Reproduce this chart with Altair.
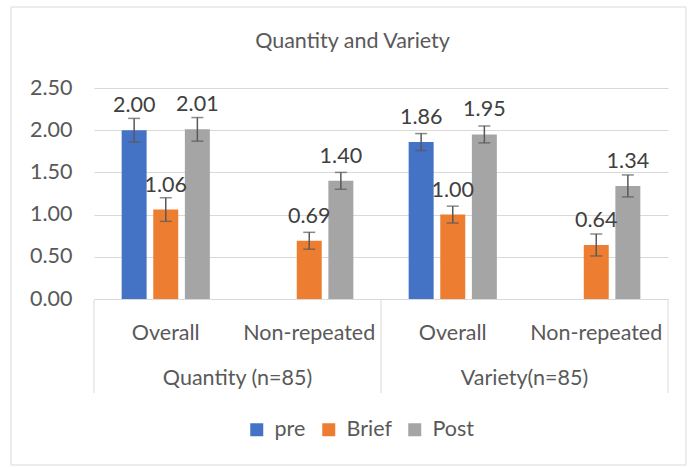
import altair as alt
import pandas as pd

# ---- data ----
groups = ["Quantity (n=85)", "Quantity (n=85)", "Variety(n=85)", "Variety(n=85)"]
categories = ["Overall", "Non-repeated", "Overall", "Non-repeated"]
series_names = ["pre", "Brief", "Post"]
pre_vals = [2.00, None, 1.86, None]
brief_vals = [1.06, 0.69, 1.00, 0.64]
post_vals = [2.01, 1.40, 1.95, 1.34]
pre_err = [0.14, None, 0.10, None]
brief_err = [0.14, 0.10, 0.10, 0.13]
post_err = [0.14, 0.10, 0.10, 0.13]
colors = ["#4472C4", "#ED7D31", "#A5A5A5"]
title_text = "Quantity and Variety"

FONT = "Lato"
FS = 21.5
TXT = "#595959"
GRID = "#d9d9d9"

keys = [f"{g}|{c}" for g, c in zip(groups, categories)]
rows = []
for i in range(len(keys)):
    for s, vals, errs in zip(series_names, [pre_vals, brief_vals, post_vals],
                             [pre_err, brief_err, post_err]):
        if vals[i] is None:
            continue
        rows.append(dict(key=keys[i], series=s, value=vals[i],
                         lo=vals[i] - errs[i], hi=vals[i] + errs[i],
                         label=f"{vals[i]:.2f}"))
df = pd.DataFrame(rows)

group_df = pd.DataFrame({"key": [keys[0], keys[2]], "group": [groups[0], groups[2]]})
sep_start = pd.DataFrame({"key": [keys[0], keys[2]]})
sep_end = pd.DataFrame({"key": [keys[3]]})

xscale = alt.Scale(domain=keys, paddingInner=0, paddingOuter=0)
xoff_scale = alt.Scale(domain=series_names, paddingInner=0.21, paddingOuter=0.875)
yscale = alt.Scale(domain=[0, 2.5], nice=False)

x_enc = alt.X("key:N", scale=xscale, sort=keys, title=None,
              axis=alt.Axis(labelExpr="split(datum.label, '|')[1]", labelAngle=0,
                            ticks=False, tickSize=0, domainColor=GRID, domainWidth=1,
                            labelFont=FONT, labelFontSize=FS, labelColor=TXT,
                            labelBaseline="alphabetic", labelPadding=40, grid=False))
xo = alt.XOffset("series:N", scale=xoff_scale)

base = alt.Chart(df)

bars = base.mark_bar().encode(
    x=x_enc,
    xOffset=xo,
    y=alt.Y("value:Q", scale=yscale, title=None,
            axis=alt.Axis(values=[0, 0.5, 1.0, 1.5, 2.0, 2.5], format=".2f",
                          domain=False, ticks=False, tickSize=0, labelPadding=22,
                          gridColor=GRID, gridWidth=1, labelFont=FONT,
                          labelFontSize=FS, labelColor=TXT)),
    color=alt.Color("series:N", scale=alt.Scale(domain=series_names, range=colors),
                    title=None,
                    legend=alt.Legend(orient="none", legendX=152, legendY=331,
                                      direction="horizontal", symbolType="square",
                                      symbolSize=169, symbolStrokeWidth=0,
                                      labelFont=FONT, labelFontSize=FS,
                                      labelColor=TXT, labelOffset=7,
                                      columnPadding=12, gridAlign="none")),
)

err_rule = base.mark_rule(color="#595959", strokeWidth=1.5).encode(
    x=alt.X("key:N", scale=xscale, sort=keys), xOffset=xo,
    y=alt.Y("lo:Q", scale=yscale), y2="hi:Q")
err_lo = base.mark_tick(color="#595959", thickness=1.5, size=12, orient="horizontal").encode(
    x=alt.X("key:N", scale=xscale, sort=keys), xOffset=xo,
    y=alt.Y("lo:Q", scale=yscale))
err_hi = base.mark_tick(color="#595959", thickness=1.5, size=12, orient="horizontal").encode(
    x=alt.X("key:N", scale=xscale, sort=keys), xOffset=xo,
    y=alt.Y("hi:Q", scale=yscale))

labels = base.mark_text(font=FONT, fontSize=FS, color="#404040",
                        baseline="alphabetic", dy=-18).encode(
    x=alt.X("key:N", scale=xscale, sort=keys), xOffset=xo,
    y=alt.Y("value:Q", scale=yscale), text="label:N")

group_labels = alt.Chart(group_df).mark_text(
    font=FONT, fontSize=FS, color=TXT, baseline="alphabetic", dx=71.75).encode(
    x=alt.X("key:N", scale=xscale, sort=keys), y=alt.value(297), text="group:N")

seps1 = alt.Chart(sep_start).mark_rule(color=GRID, strokeWidth=1).encode(
    x=alt.X("key:N", scale=xscale, sort=keys, bandPosition=0),
    y=alt.value(212), y2=alt.value(305))
seps2 = alt.Chart(sep_end).mark_rule(color=GRID, strokeWidth=1).encode(
    x=alt.X("key:N", scale=xscale, sort=keys, bandPosition=1),
    y=alt.value(212), y2=alt.value(305))

border = alt.Chart(alt.Data(values=[{}])).mark_rect(
    filled=False, stroke=GRID, strokeWidth=1).encode(
    x=alt.value(-83), x2=alt.value(592), y=alt.value(-81), y2=alt.value(377))

title = alt.Chart(alt.Data(values=[{"t": title_text}])).mark_text(
    font=FONT, fontSize=FS, color=TXT, baseline="alphabetic", align="center").encode(
    x=alt.value(258.5), y=alt.value(-40), text="t:N")

chart = alt.layer(border, title, bars, err_rule, err_lo, err_hi, labels, group_labels,
                  seps1, seps2).properties(
    width=574, height=211,
    autosize=alt.AutoSizeParams(type="none"),
    padding={"left": 94, "top": 88, "right": 31, "bottom": 169},
    background="white",
).configure_view(strokeWidth=0)

chart.save("out.html", embed_options={"renderer": "svg", "actions": False})
